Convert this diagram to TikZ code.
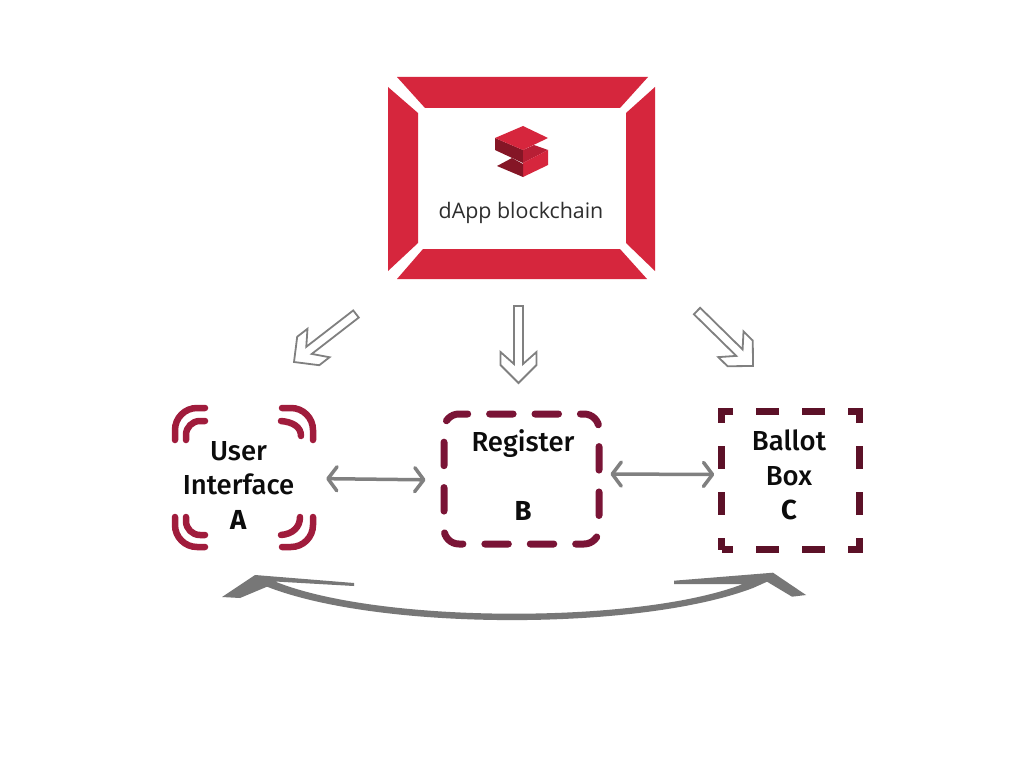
\documentclass[tikz,border=0pt]{standalone}
\usepackage{fontspec}
\setmainfont{Fira Sans}[UprightFont=* Medium,BoldFont=* Bold]
\newfontfamily\logofont{Open Sans}
\usetikzlibrary{arrows.meta,calc}
\definecolor{ink}{HTML}{0C0C0C}
\definecolor{logoink}{HTML}{2E2E2E}
\definecolor{chainred}{HTML}{D6263D}
\definecolor{chainmid}{HTML}{B81F35}
\definecolor{chaindark}{HTML}{851626}
\definecolor{uired}{HTML}{A01C3C}
\definecolor{regred}{HTML}{7A1436}
\definecolor{balred}{HTML}{5C1128}
\definecolor{linkgray}{HTML}{808080}
\definecolor{swinggray}{HTML}{777777}
\tikzset{
  panel/.style={fill=chainred,draw=none},
  lbl/.style={font=\fontsize{27.5}{34.5}\selectfont,text=ink,align=center},
  corner/.style={draw=uired,line width=6.5pt,line cap=round,rounded corners=22pt},
  cornerin/.style={corner,rounded corners=14pt},
  regbox/.style={draw=regred,line width=7pt,rounded corners=15pt,line cap=round,
    dash pattern=on 23.5pt off 21.9pt,dash phase=19.9pt,minimum width=155pt,minimum height=130pt},
  balbox/.style={draw=balred,line width=6.5pt,dash pattern=on 23pt off 23pt,
    dash phase=11.5pt,minimum width=138pt,minimum height=138pt},
  link/.style={{Straight Barb[length=9pt,width=24pt,line width=3.5pt,round]}-{Straight Barb[length=9pt,width=24pt,line width=3.5pt,round]},
    draw=linkgray,line width=3.5pt},
  hollow/.style={draw=linkgray,line width=1.8pt,fill=white,line join=miter,
    to path={let \p1=($(\tikztotarget)-(\tikztostart)$),\n1={atan2(\y1,\x1)},\n2={veclen(\x1,\y1)} in
      {[shift={(\tikztotarget)},rotate=\n1]
      (0,0) -- (-18,18) -- (-31,18) -- (-19,4.5) -- (-\n2,4.5) -- (-\n2,-4.5)
      -- (-19,-4.5) -- (-31,-18) -- (-18,-18) -- cycle}}}
}
\begin{document}
\begin{tikzpicture}[x=1pt,y=-1pt]
  \useasboundingbox (0,0) rectangle (1024,762);
  \fill[white] (0,0) rectangle (1024,762);
  % blockchain frame
  \node[minimum width=208pt,minimum height=141pt] (chain) at (522,178.5) {};
  \fill[panel] (397,77) -- (648,77) -- (620,108) -- (425,108) -- cycle;
  \fill[panel] (397,279) -- (647,279) -- (620,249) -- (423,249) -- cycle;
  \fill[panel] (388,87) -- (418,113) -- (418,243) -- (388,271) -- cycle;
  \fill[panel] (655,87) -- (626,113) -- (626,243) -- (655,271) -- cycle;
  % logo
  \fill[chaindark] (495,138) -- (523,150) -- (523,163) -- (495,150) -- cycle;
  \fill[chainmid] (523,150) -- (534,145) -- (548,150) -- (523,163) -- cycle;
  \fill[chainred] (523,163) -- (548,150) -- (548,165) -- (523,177) -- cycle;
  \fill[chaindark] (497,166) -- (512,158) -- (523,164) -- (523,177) -- cycle;
  \fill[chainred] (495,138) -- (523,126) -- (548,138) -- (523,150) -- cycle;
  \node[font=\logofont\fontsize{21.4}{21.4}\selectfont,text=logoink] (title) at (521,212.5) {dApp blockchain};
  % the three parts
  \node[minimum width=139pt,minimum height=139pt] (ui) at (243.5,477.5) {};
  \node[lbl] (uitext) at (238.5,485) {User\\Interface\\\textbf{A}};
  \node[regbox] (reg) at (521.5,479) {};
  \node[lbl] (regtext) at (523,475) {Register\\ \\\textbf{B}};
  \node[balbox] (bal) at (790.5,480.5) {};
  \node[lbl] (baltext) at (789,475) {Ballot\\Box\\\textbf{C}};
  % corners of the user interface
  \draw[corner] (175,440) -- (175,408) -- (205,408);
  \draw[cornerin] (186,440) -- (186,421) -- (205,421);
  \draw[corner] (282,408) -- (313,408) -- (313,440);
  \draw[corner] (281,421) .. controls (293,422) and (301,427) .. (301,436);
  \draw[corner] (175,517) -- (175,547) -- (205,547);
  \draw[cornerin] (186,517) -- (186,535) -- (205,535);
  \draw[corner] (282,547) -- (313,547) -- (313,517);
  \draw[corner] (281,535) .. controls (293,534) and (300,527) .. (300,517);
  % arrows from the chain
  \coordinate (t1) at (356,314);
  \coordinate (h1) at (294,362);
  \coordinate (t2) at (518.5,306);
  \coordinate (h2) at (518.5,383);
  \coordinate (t3) at (697,311);
  \coordinate (h3) at (753,366);
  \draw[hollow] (t1) to (h1);
  \draw[hollow] (t2) to (h2);
  \draw[hollow] (t3) to (h3);
  % links
  \draw[link,shorten <=13pt,shorten >=15pt] ([yshift=-1pt]ui.east) -- ([yshift=-1pt]reg.west);
  \draw[link,shorten <=8pt,shorten >=4pt] ([yshift=5pt]reg.east) -- ([yshift=6pt]bal.west);
  % swing arrow
  \fill[swinggray] (255,575) -- (354,583) -- (354,586) -- (275,581.5)
    .. controls (380,624) and (640,624) .. (743,584) -- (674,584) -- (674,580.7)
    -- (773,572.7) -- (806,595) -- (792,596.7) -- (767,581.7) -- (753,588)
    .. controls (640,631) and (380,631) .. (267,586.7) -- (240,598) -- (222,597) -- cycle;
\end{tikzpicture}
\end{document}
